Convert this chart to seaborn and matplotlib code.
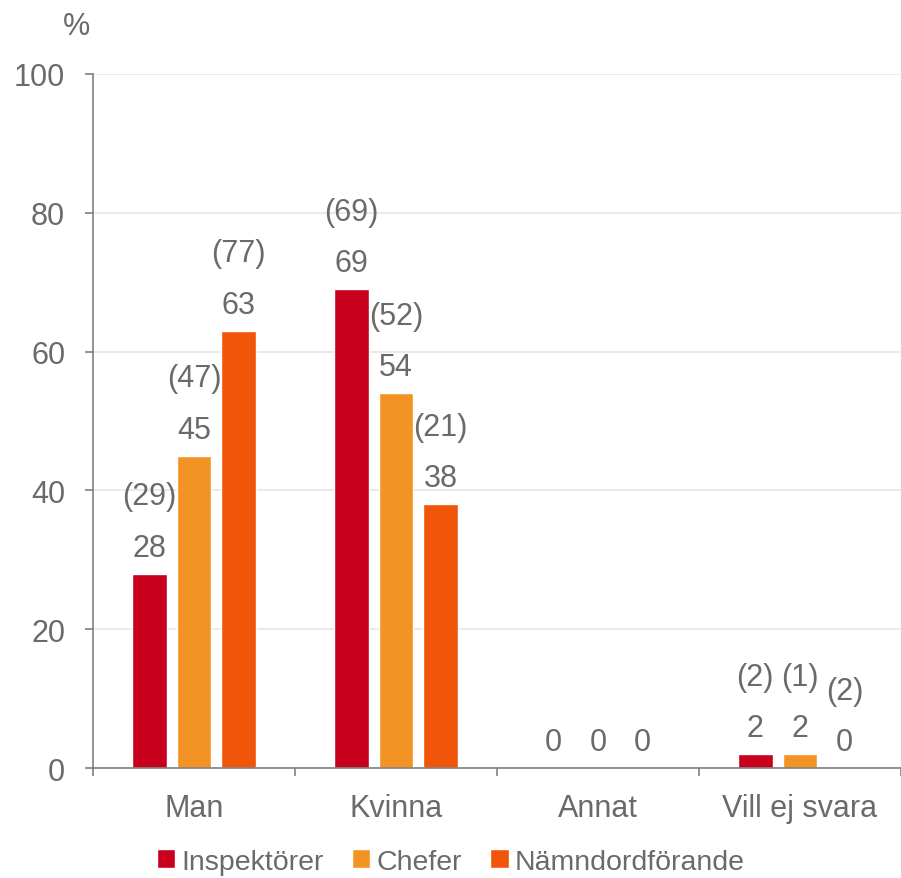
import pandas as pd
import matplotlib.pyplot as plt
import seaborn as sns

# svarsalternativ och grupper
categories = ['Man', 'Kvinna', 'Annat', 'Vill ej svara']
groups = ['Inspektörer', 'Chefer', 'Nämndordförande']

# andel i procent (aktuell mätning)
inspektorer = [28, 69, 0, 2]
chefer = [45, 54, 0, 2]
namndordforande = [63, 38, 0, 0]

# föregående mätning, visas inom parentes
prev_inspektorer = [29, 69, None, 2]
prev_chefer = [47, 52, None, 1]
prev_namndordforande = [77, 21, None, 2]

COLORS = ['#C8001E', '#F39324', '#F0550A']
TEXT = '#6A6A6A'
AXIS = '#808080'
FS = 22


def build_frame():
    rows = []
    for g, vals in zip(groups, [inspektorer, chefer, namndordforande]):
        for c, v in zip(categories, vals):
            rows.append({'svar': c, 'grupp': g, 'andel': v})
    return pd.DataFrame(rows)


def main():
    df = build_frame()
    sns.set_theme(style='white')
    plt.rcParams['font.family'] = ['Liberation Sans', 'DejaVu Sans']

    fig = plt.figure(figsize=(9.01, 8.79), dpi=100)
    ax = fig.add_axes([0.1032, 0.1251, 0.8968, 0.7896])

    sns.barplot(data=df, x='svar', y='andel', hue='grupp', order=categories,
                hue_order=groups, palette=COLORS, width=0.665, gap=0.22,
                saturation=1, ax=ax, legend=True)

    ax.set_ylim(0, 100)
    ax.set_xlim(-0.5, len(categories) - 0.5)
    ax.set_yticks(range(0, 101, 20))
    ax.yaxis.grid(True, color='#E6E6E6', linewidth=1.2)
    ax.set_axisbelow(True)
    ax.set_xlabel('')
    ax.set_ylabel('')

    for side in ['top', 'right']:
        ax.spines[side].set_visible(False)
    for side in ['left', 'bottom']:
        ax.spines[side].set_color(AXIS)
        ax.spines[side].set_linewidth(1.2)

    ax.tick_params(axis='y', which='major', left=True, length=6, width=1.2,
                   color=AXIS, labelsize=FS, labelcolor=TEXT, pad=14)
    ax.tick_params(axis='x', which='major', bottom=False, labelsize=FS,
                   labelcolor=TEXT, pad=12)
    ax.set_xticks([i + 0.5 for i in range(-1, len(categories))], minor=True)
    ax.tick_params(axis='x', which='minor', bottom=True, length=6, width=1.2,
                   color=AXIS)

    prevs = [prev_inspektorer, prev_chefer, prev_namndordforande]
    for cont, prev in zip(ax.containers, prevs):
        ax.bar_label(cont, fmt='%g', padding=8, fontsize=FS, color=TEXT)
        labels = ['' if p is None else f'({p})' for p in prev]
        ax.bar_label(cont, labels=labels, padding=45, fontsize=FS, color=TEXT)

    fig.text(77 / 901, 1 - 27 / 879, '%', fontsize=FS, color=TEXT,
             ha='center', va='center')

    ax.legend(loc='lower center', bbox_to_anchor=(0.5, -0.016),
              bbox_transform=fig.transFigure, ncol=3, frameon=False,
              fontsize=20.5, labelcolor=TEXT, handlelength=0.65,
              handleheight=0.65, handletextpad=0.2, columnspacing=1.0,
              borderpad=0.1)

    fig.savefig('out.png', dpi=100)


if __name__ == '__main__':
    main()
